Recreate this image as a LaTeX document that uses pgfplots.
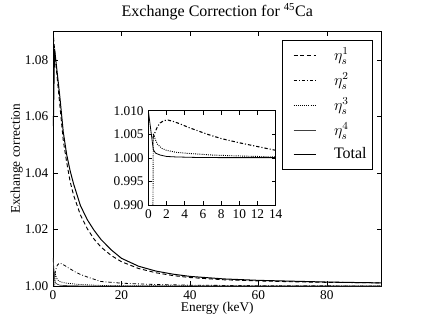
\documentclass[border=0pt]{standalone}
\usepackage{pgfplots}
\pgfplotsset{compat=1.18}
\usepackage{pgfplotstable}
\usepackage{fontspec}
\setmainfont{Liberation Serif}

\pgfplotstableread{
E y
0.10 1.0566
0.45 1.0840
1 1.0780
2 1.0670
3 1.0545
4 1.0465
5 1.0408
6 1.0362
8 1.0285
10 1.0235
12 1.0197
14 1.0165
17 1.0128
20 1.0098
25 1.0070
30 1.0053
35 1.0042
40 1.0034
50 1.0025
60 1.0020
70 1.0017
80 1.0014
90 1.0012
96 1.0011
}\total

\pgfplotstableread{
E y
0.15 1.0880
1 1.0765
2 1.0640
3 1.0515
4 1.0438
5 1.0370
6 1.0322
8 1.0252
10 1.0203
12 1.0166
14 1.0138
17 1.0108
20 1.0086
25 1.0062
30 1.0047
35 1.0037
40 1.0030
50 1.0022
60 1.0018
70 1.0015
80 1.0013
90 1.0012
96 1.0011
}\etaone

\pgfplotstableread{
E y
0.5 1.0042
0.75 1.0055
1.0 1.0066
1.3 1.0074
1.7 1.0079
2.2 1.0080
2.8 1.0077
3.5 1.0072
4.5 1.0064
5.5 1.0057
6.5 1.0050
8 1.0041
10 1.0032
12 1.0024
14 1.0016
20 1.0010
28 1.0006
40 1.0003
60 1.0001
96 1.0000
}\etatwo

\pgfplotstableread{
E y
0.45 0.9700
0.55 1.0052
0.75 1.0040
1.0 1.0029
1.5 1.0020
2 1.0016
3 1.0012
4 1.0010
5.5 1.0008
7 1.0006
10 1.0004
14 1.0002
20 1.0001
30 1.00005
96 1.0000
}\etathree

\pgfplotstableread{
E y
0.0 1.0100
0.55 1.0017
0.8 1.0010
1.3 1.0006
2 1.0003
3 1.0002
5 1.0001
8 1.00005
96 1.0000
}\etafour

\begin{document}
\begin{tikzpicture}
\path[use as bounding box] (-39.75pt,-24pt) rectangle (278.25pt,214.5pt);
\pgfplotsset{
  every axis/.append style={
    /pgf/number format/assume math mode=true,
    tick align=inside,
    major tick length=3.5pt,
    tick style={black, line width=0.5pt},
    axis line style={line width=0.6pt},
    xtick pos=both, ytick pos=both,
    xticklabel pos=lower, yticklabel pos=left,
    ticklabel style={font=\fontsize{10}{12}\selectfont},
    label style={font=\fontsize{10}{12}\selectfont},
  },
}
\begin{axis}[
  name=main,
  at={(0,0)}, anchor=south west,
  scale only axis, width=246.5pt, height=190.7pt,
  xmin=0, xmax=96, ymin=1.0, ymax=1.09,
  xtick={0,20,40,60,80},
  ytick={1,1.02,1.04,1.06,1.08},
  yticklabel style={/pgf/number format/.cd, fixed, fixed zerofill, precision=2},
  scaled y ticks=false,
  xlabel={Energy (keV)},
  ylabel={Exchange correction},
  xlabel style={at={(axis description cs:0.5,-0.101)}, anchor=base},
  ylabel style={at={(axis description cs:-0.1105,0.5)}, anchor=center},
  every axis title shift=0pt,
  title={Exchange Correction for \textsuperscript{45}Ca},
  title style={at={(axis description cs:0.5,1.0619)}, anchor=base, yshift=0pt, font=\fontsize{12}{14}\selectfont},
  legend style={at={(1,1)}, anchor=north east, xshift=-6.5pt, yshift=-6pt,
    draw=black, line width=0.5pt,
    font=\fontsize{12}{13}\selectfont,
    inner xsep=2.5pt, inner ysep=4pt, row sep=3.7pt,
    nodes={inner xsep=2pt},
    /tikz/every odd column/.style={column sep=11pt}},
  legend cell align=left,
  legend image code/.code={\path (0pt,0pt) (22.5pt,0pt); \draw[#1] (5.5pt,0pt) -- (22.5pt,0pt);},
]
\addplot[black, line width=0.7pt, dash pattern=on 3pt off 2pt] table[x=E,y=y] {\etaone};
\addlegendentry{$\eta_s^1$}
\addplot[black, line width=0.6pt, dash pattern=on 2.5pt off 1.5pt on 0.6pt off 1.5pt] table[x=E,y=y] {\etatwo};
\addlegendentry{$\eta_s^2$}
\addplot[black, line width=0.6pt, dash pattern=on 0.7pt off 0.9pt] table[x=E,y=y] {\etathree};
\addlegendentry{$\eta_s^3$}
\addplot[black!75, line width=0.5pt] table[x=E,y=y] {\etafour};
\addlegendentry{$\eta_s^4$}
\addplot[black, line width=0.75pt] table[x=E,y=y] {\total};
\addlegendentry{Total}
\end{axis}
\begin{axis}[
  at={(71.5pt,60.75pt)}, anchor=south west,
  scale only axis, width=95.5pt, height=70.7pt,
  xmin=0, xmax=14, ymin=0.99, ymax=1.01,
  xtick={0,2,4,6,8,10,12,14},
  ytick={0.99,0.995,1,1.005,1.01},
  yticklabel style={/pgf/number format/.cd, fixed, fixed zerofill, precision=3},
  scaled y ticks=false,
  major tick length=3pt,
  axis background/.style={fill=white},
]
\addplot[black, line width=0.8pt, dash pattern=on 2.5pt off 1.5pt on 0.8pt off 1.5pt] table[x=E,y=y] {\etatwo};
\addplot[black, line width=0.7pt, dash pattern=on 0.7pt off 0.9pt] table[x=E,y=y] {\etathree};
\addplot[black, line width=0.6pt] table[x=E,y=y] {\etafour};
\end{axis}
\end{tikzpicture}
\end{document}
